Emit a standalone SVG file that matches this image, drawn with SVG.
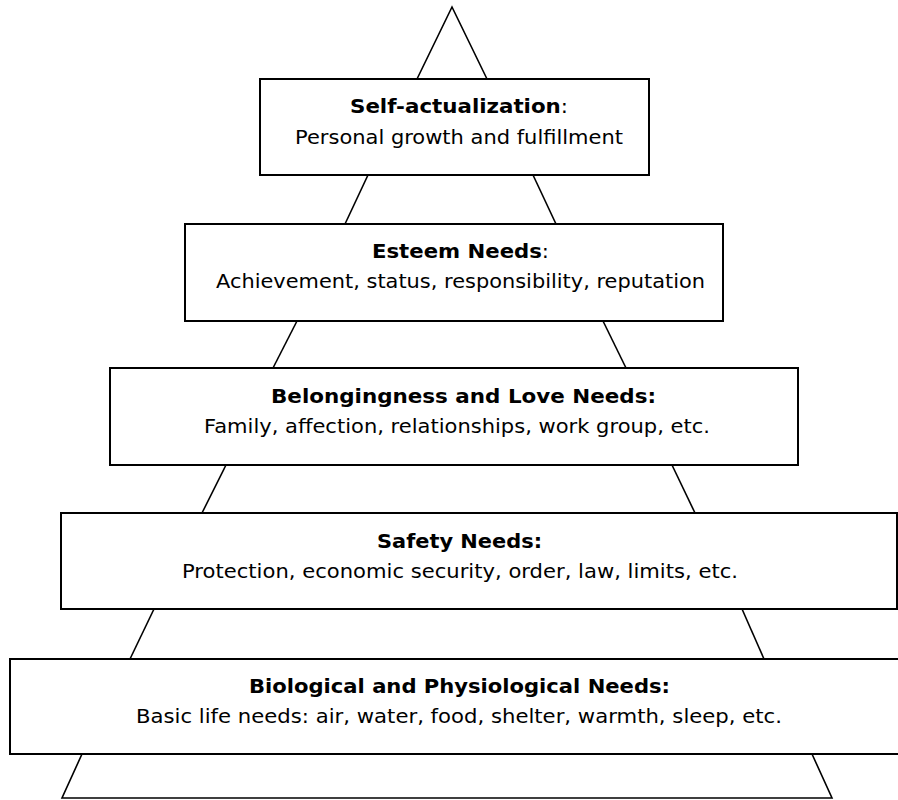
<svg xmlns="http://www.w3.org/2000/svg" width="898" height="800" viewBox="0 0 898 800">
<style>
.box{fill:#fff;stroke:#000;stroke-width:2}
.ln{stroke:#000;stroke-width:1.6;fill:none}
text{font-family:"DejaVu Sans","Liberation Sans",sans-serif;font-size:19px;fill:#000}
.b{font-weight:bold}
</style>
<rect width="898" height="800" fill="#fff"/>
<g id="connectors">
<path class="ln" d="M417,79 L452,7 L487,79"/>
<line class="ln" x1="368" y1="175" x2="345" y2="224"/>
<line class="ln" x1="533" y1="175" x2="556" y2="224"/>
<line class="ln" x1="297" y1="321" x2="273" y2="368"/>
<line class="ln" x1="603" y1="321" x2="626" y2="368"/>
<line class="ln" x1="226" y1="465" x2="202" y2="513"/>
<line class="ln" x1="672" y1="465" x2="695" y2="513"/>
<line class="ln" x1="154" y1="609" x2="130" y2="659"/>
<line class="ln" x1="742" y1="609" x2="764" y2="659"/>
<path class="ln" d="M82,754 L62,798 L832,798 L812,754"/>
</g>
<g id="self-actualization">
<rect class="box" x="260" y="79" width="389" height="96"/>
<text x="350" y="113" textLength="218" lengthAdjust="spacingAndGlyphs"><tspan class="b">Self-actualization</tspan>:</text>
<text x="295" y="144" textLength="328" lengthAdjust="spacingAndGlyphs">Personal growth and fulfillment</text>
</g>
<g id="esteem">
<rect class="box" x="185" y="224" width="538" height="97"/>
<text x="372" y="258" textLength="177" lengthAdjust="spacingAndGlyphs"><tspan class="b">Esteem Needs</tspan>:</text>
<text x="216" y="288" textLength="489" lengthAdjust="spacingAndGlyphs">Achievement, status, responsibility, reputation</text>
</g>
<g id="belongingness">
<rect class="box" x="110" y="368" width="688" height="97"/>
<text class="b" x="271" y="403" textLength="385" lengthAdjust="spacingAndGlyphs">Belongingness and Love Needs:</text>
<text x="204" y="433" textLength="506" lengthAdjust="spacingAndGlyphs">Family, affection, relationships, work group, etc.</text>
</g>
<g id="safety">
<rect class="box" x="61" y="513" width="836" height="96"/>
<text class="b" x="377" y="548" textLength="165" lengthAdjust="spacingAndGlyphs">Safety Needs:</text>
<text x="182" y="578" textLength="556" lengthAdjust="spacingAndGlyphs">Protection, economic security, order, law, limits, etc.</text>
</g>
<g id="biological">
<rect class="box" x="10" y="659" width="895" height="95"/>
<text class="b" x="249" y="693" textLength="421" lengthAdjust="spacingAndGlyphs">Biological and Physiological Needs:</text>
<text x="136" y="723" textLength="646" lengthAdjust="spacingAndGlyphs">Basic life needs: air, water, food, shelter, warmth, sleep, etc.</text>
</g>
</svg>
